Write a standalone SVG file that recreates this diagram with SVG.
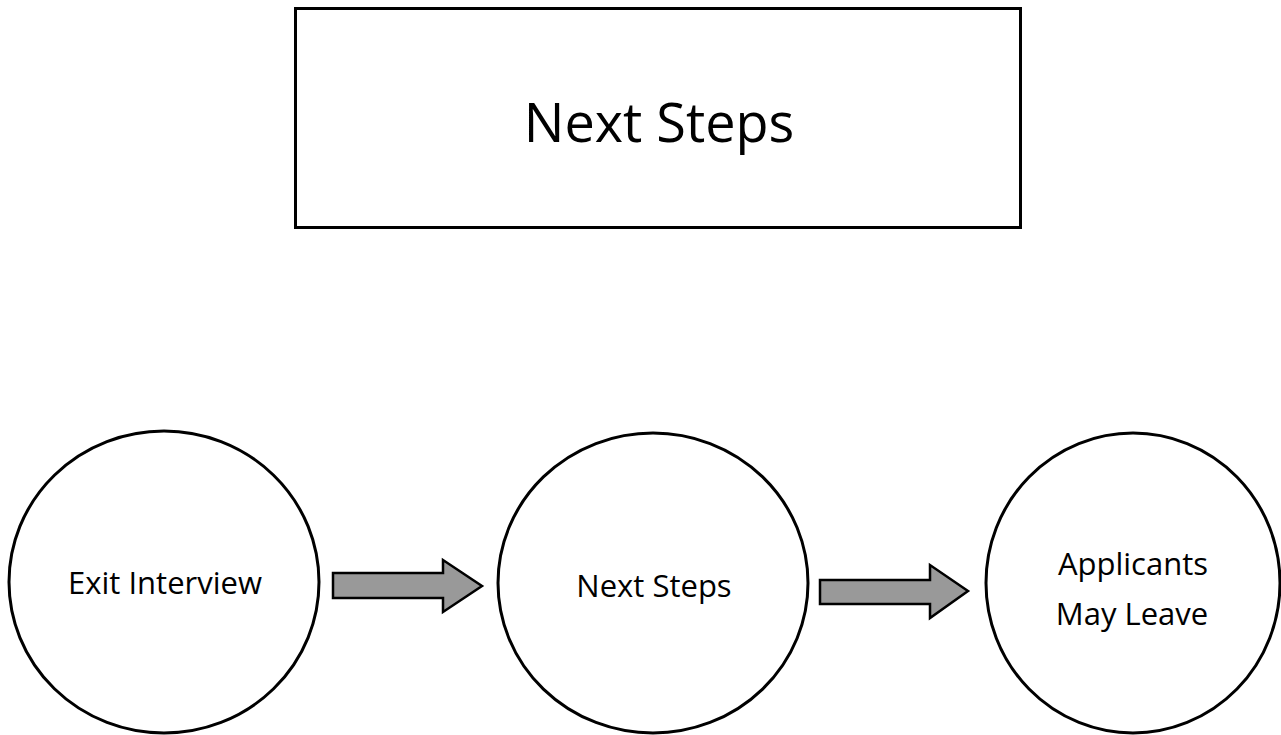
<svg xmlns="http://www.w3.org/2000/svg" width="1281" height="735" viewBox="0 0 1281 735">
<style>
.box{fill:#fff;stroke:#000;stroke-width:3}
.node{fill:#fff;stroke:#000;stroke-width:3}
.arrow{fill:#999;stroke:#000;stroke-width:2.5;stroke-linejoin:miter}
.lbl{font-family:"Open Sans","Noto Sans",sans-serif;fill:#000;text-anchor:middle}
</style>
<rect width="1281" height="735" fill="#fff"/>
<g id="title">
<rect class="box" x="295.5" y="8.5" width="725" height="219"/>
<text class="lbl" x="659" y="142" font-size="54">Next Steps</text>
</g>
<g id="exit-interview">
<ellipse class="node" cx="164" cy="582" rx="155" ry="151"/>
<text class="lbl" x="165" y="594" font-size="31">Exit Interview</text>
</g>
<g id="next-steps">
<ellipse class="node" cx="653" cy="583" rx="155" ry="150"/>
<text class="lbl" x="654" y="597" font-size="31">Next Steps</text>
</g>
<g id="applicants-may-leave">
<ellipse class="node" cx="1133" cy="583" rx="147" ry="150"/>
<text class="lbl" x="1133" y="575" font-size="31">Applicants</text>
<text class="lbl" x="1132" y="625" font-size="31">May Leave</text>
</g>
<g id="connectors">
<path class="arrow" d="M333 573 L443 573 L443 560 L482 586 L443 612 L443 598 L333 598 Z"/>
<path class="arrow" d="M820 580 L930 580 L930 565 L968 591 L930 618 L930 604 L820 604 Z"/>
</g>
</svg>
